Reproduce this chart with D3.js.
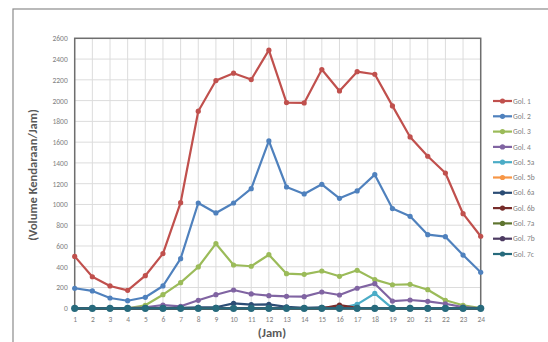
<!DOCTYPE html>
<html lang="en">
<head>
  <meta charset="UTF-8">
  <title>Volume Kendaraan per Jam</title>
  <style>
    body { margin: 0; background: #fff; }
    text { font-family: Calibri, Carlito, "Liberation Sans", sans-serif; }
  </style>
</head>
<body>
  <svg id="svg" width="548" height="342"></svg>

  <script src="https://d3js.org/d3.v7.min.js"></script>
  <script>
    const hours = d3.range(1, 25)
    const yTicks = d3.range(0, 2601, 200)

    const gol1 = [500, 304, 215, 173, 314, 526, 1017, 1898, 2193, 2264, 2203, 2486, 1981, 1978, 2299, 2093, 2279, 2254, 1949, 1650, 1464, 1303, 911, 694]
    const gol2 = [193, 167, 99, 73, 106, 215, 478, 1014, 918, 1014, 1152, 1612, 1168, 1101, 1194, 1059, 1130, 1287, 960, 886, 709, 690, 513, 347]
    const gol3 = [0, 0, 0, 0, 29, 131, 247, 398, 622, 417, 405, 516, 333, 327, 359, 308, 366, 276, 227, 231, 179, 77, 29, 3]
    const gol4 = [3, 3, 3, 3, 10, 32, 19, 77, 131, 176, 138, 122, 115, 112, 157, 128, 193, 237, 70, 80, 67, 44, 12, 0]
    const gol5a = [0, 0, 0, 0, 0, 0, 0, 0, 0, 0, 0, 0, 0, 0, 0, 0, 38, 143, 0, 0, 0, 0, 0, 0]
    const gol5b = [0, 0, 0, 0, 0, 0, 0, 0, 0, 0, 0, 0, 0, 0, 0, 0, 0, 0, 0, 0, 0, 0, 0, 0]
    const gol6a = [0, 0, 0, 0, 2, 5, 5, 10, 10, 48, 35, 38, 14, 5, 8, 3, 3, 3, 0, 0, 0, 0, 0, 0]
    const gol6b = [0, 0, 0, 0, 0, 0, 0, 0, 0, 0, 0, 0, 0, 0, 0, 30, 5, 3, 0, 0, 0, 0, 0, 0]
    const gol7a = [0, 0, 0, 0, 0, 0, 0, 0, 0, 0, 0, 0, 0, 0, 0, 0, 0, 0, 0, 0, 0, 0, 0, 0]
    const gol7b = [0, 0, 0, 0, 0, 0, 0, 0, 0, 0, 0, 0, 0, 0, 0, 0, 0, 0, 0, 0, 0, 0, 0, 0]
    const gol7c = [0, 0, 0, 0, 0, 0, 0, 0, 0, 0, 0, 0, 0, 0, 0, 0, 0, 0, 0, 0, 0, 0, 0, 0]

    const names = ['Gol. 1', 'Gol. 2', 'Gol. 3', 'Gol. 4', 'Gol. 5a', 'Gol. 5b', 'Gol. 6a', 'Gol. 6b', 'Gol. 7a', 'Gol. 7b', 'Gol. 7c']
    const colors = ['#c0504d', '#4f81bd', '#9bbb59', '#8064a2', '#4bacc6', '#f79646', '#2c4d75', '#772c2a', '#5f7530', '#4d3b62', '#276a7c']

    const series = [gol1, gol2, gol3, gol4, gol5a, gol5b, gol6a, gol6b, gol7a, gol7b, gol7c]
      .map((values, i) => ({ name: names[i], color: colors[i], values }))

    const svg = d3.select('#svg')

    // outer chart frame
    svg.append('rect')
      .attr('x', 13).attr('y', 9)
      .attr('width', 560).attr('height', 360)
      .attr('fill', 'none')
      .attr('stroke', '#8c8c8c')
      .attr('stroke-width', 1.2)

    const xScale = d3.scaleLinear().domain([1, 24]).range([74.7, 480.7])
    const yScale = d3.scaleLinear().domain([0, 2600]).range([308.3, 38.3])

    // gridlines
    svg.append('g')
      .selectAll('line')
      .data(yTicks)
      .enter()
      .append('line')
      .attr('x1', xScale(1)).attr('x2', xScale(24))
      .attr('y1', d => yScale(d)).attr('y2', d => yScale(d))
      .attr('stroke', '#dcdcdc').attr('stroke-width', 1)

    svg.append('g')
      .selectAll('line')
      .data(hours)
      .enter()
      .append('line')
      .attr('x1', d => xScale(d)).attr('x2', d => xScale(d))
      .attr('y1', yScale(0)).attr('y2', yScale(2600))
      .attr('stroke', '#dcdcdc').attr('stroke-width', 1)

    // axes
    const yAxis = svg.append('g')
      .attr('transform', `translate(${xScale(1)},0)`)
      .call(d3.axisLeft(yScale).tickValues(yTicks).tickFormat(d3.format('d')).tickSize(0).tickPadding(7))
    yAxis.select('.domain').remove()
    yAxis.selectAll('text').attr('fill', '#7f7f7f').style('font-size', '7.5px')

    const xAxis = svg.append('g')
      .attr('transform', `translate(0,${yScale(0)})`)
      .call(d3.axisBottom(xScale).tickValues(hours).tickFormat(d3.format('d')).tickSize(0).tickPadding(8))
    xAxis.select('.domain').remove()
    xAxis.selectAll('text').attr('fill', '#7f7f7f').style('font-size', '7.5px')

    // plot area border
    svg.append('rect')
      .attr('x', xScale(1)).attr('y', yScale(2600))
      .attr('width', xScale(24) - xScale(1))
      .attr('height', yScale(0) - yScale(2600))
      .attr('fill', 'none')
      .attr('stroke', '#6e6e6e')
      .attr('stroke-width', 1.5)

    // lines and markers
    const line = d3.line()
      .x((d, i) => xScale(hours[i]))
      .y(d => yScale(d))

    const groups = svg.append('g')
      .selectAll('g')
      .data(series)
      .enter()
      .append('g')

    groups.append('path')
      .attr('d', d => line(d.values))
      .attr('fill', 'none')
      .attr('stroke', d => d.color)
      .attr('stroke-width', 2.2)
      .attr('stroke-linejoin', 'round')

    groups.selectAll('circle')
      .data(d => d.values.map((v, i) => ({ v, i, color: d.color, big: d.name === 'Gol. 7c' })))
      .enter()
      .append('circle')
      .attr('cx', d => xScale(hours[d.i]))
      .attr('cy', d => yScale(d.v))
      .attr('r', d => d.big ? 3.6 : 2.6)
      .attr('fill', d => d.color)

    // axis titles
    svg.append('text')
      .attr('x', 272).attr('y', 337)
      .attr('text-anchor', 'middle')
      .attr('fill', '#595959')
      .style('font-size', '12.5px')
      .style('font-weight', 'bold')
      .text('(Jam)')

    svg.append('text')
      .attr('transform', 'translate(37,175) rotate(-90)')
      .attr('text-anchor', 'middle')
      .attr('fill', '#595959')
      .style('font-size', '12.5px')
      .style('font-weight', 'bold')
      .text('(Volume Kendaraan/Jam)')

    // legend
    const legend = svg.append('g')
      .selectAll('g')
      .data(series)
      .enter()
      .append('g')
      .attr('transform', (d, i) => `translate(493,${101 + i * 15.3})`)

    legend.append('line')
      .attr('x1', 0).attr('x2', 19)
      .attr('stroke', d => d.color)
      .attr('stroke-width', 2.2)

    legend.append('circle')
      .attr('cx', 9.5).attr('r', 2.6)
      .attr('fill', d => d.color)

    legend.append('text')
      .attr('x', 20).attr('dy', '0.35em')
      .attr('fill', '#7f7f7f')
      .style('font-size', '7.5px')
      .text(d => d.name)
  </script>
</body>
</html>
